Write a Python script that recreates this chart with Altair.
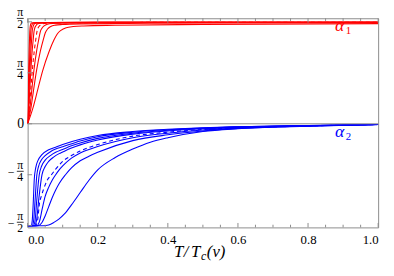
import math
import altair as alt
import pandas as pd

PI = math.pi

# ---------------- data ----------------
# alpha_1 (red) curves, fastest to slowest; index 4 is dashed
red_x = [
    [0, 0.0011, 0.0021, 0.0031, 0.0044, 0.0054, 0.0061, 0.0069, 0.008, 0.0096, 0.012, 0.05, 0.2, 1.0],
    [0, 0.0017, 0.0031, 0.0047, 0.0066, 0.0082, 0.0091, 0.0103, 0.012, 0.0144, 0.018, 0.06, 0.2, 1.0],
    [0, 0.0024, 0.0044, 0.0066, 0.0094, 0.0116, 0.0129, 0.0146, 0.017, 0.0204, 0.0255, 0.07, 0.2, 1.0],
    [0, 0.0034, 0.0062, 0.0094, 0.0132, 0.0163, 0.0182, 0.0206, 0.024, 0.0288, 0.036, 0.08, 0.25, 1.0],
    [0, 0.0049, 0.0091, 0.0137, 0.0193, 0.0238, 0.0266, 0.0301, 0.035, 0.042, 0.0525, 0.1, 0.3, 1.0],
    [0, 0.0066, 0.0122, 0.0183, 0.0259, 0.032, 0.0357, 0.0404, 0.047, 0.0564, 0.0705, 0.12, 0.3, 1.0],
    [0, 0.0092, 0.0172, 0.0257, 0.0363, 0.0449, 0.0502, 0.0568, 0.066, 0.0792, 0.099, 0.15, 0.35, 1.0],
    [0, 0.015, 0.029, 0.043, 0.061, 0.075, 0.084, 0.095, 0.11, 0.13, 0.16, 0.25, 0.5, 1.0],
]
red_y = [
    [0, 0.24, 0.54, 0.84, 1.14, 1.32, 1.42, 1.48, 1.52, 1.545, 1.555, 1.562, 1.565, 1.566],
    [0, 0.24, 0.54, 0.84, 1.14, 1.32, 1.42, 1.48, 1.52, 1.545, 1.555, 1.562, 1.565, 1.566],
    [0, 0.24, 0.54, 0.84, 1.14, 1.32, 1.42, 1.48, 1.52, 1.545, 1.555, 1.56, 1.564, 1.566],
    [0, 0.24, 0.54, 0.84, 1.14, 1.32, 1.42, 1.48, 1.515, 1.54, 1.55, 1.558, 1.563, 1.565],
    [0, 0.24, 0.54, 0.84, 1.14, 1.32, 1.42, 1.48, 1.515, 1.54, 1.55, 1.556, 1.562, 1.565],
    [0, 0.24, 0.54, 0.84, 1.13, 1.31, 1.41, 1.47, 1.51, 1.535, 1.545, 1.553, 1.56, 1.563],
    [0, 0.235, 0.53, 0.83, 1.12, 1.30, 1.40, 1.46, 1.50, 1.52, 1.53, 1.54, 1.55, 1.557],
    [0, 0.24, 0.53, 0.82, 1.11, 1.29, 1.38, 1.44, 1.48, 1.498, 1.508, 1.518, 1.53, 1.543],
]
red_dashed = [False, False, False, False, True, False, False, False]

# alpha_2 (blue) curves, fastest to slowest; index 4 is dashed
blue_x = [
    [0, 0.010, 0.013, 0.016, 0.019, 0.023, 0.03, 0.04, 0.06, 0.08, 0.1, 0.15, 0.2, 0.3, 0.4, 0.5, 0.6, 0.75, 1.0],
    [0, 0.013, 0.017, 0.021, 0.026, 0.031, 0.04, 0.05, 0.065, 0.08, 0.1, 0.15, 0.2, 0.3, 0.4, 0.5, 0.6, 0.75, 1.0],
    [0, 0.016, 0.021, 0.026, 0.033, 0.04, 0.05, 0.065, 0.08, 0.1, 0.125, 0.15, 0.2, 0.3, 0.4, 0.5, 0.6, 0.75, 1.0],
    [0, 0.019, 0.025, 0.032, 0.041, 0.05, 0.06, 0.075, 0.09, 0.1, 0.125, 0.15, 0.2, 0.3, 0.4, 0.5, 0.6, 0.75, 1.0],
    [0, 0.022, 0.028, 0.034, 0.04, 0.046, 0.055, 0.068, 0.08, 0.1, 0.125, 0.15, 0.2, 0.3, 0.4, 0.5, 0.6, 0.75, 1.0],
    [0, 0.026, 0.034, 0.042, 0.05, 0.06, 0.07, 0.08, 0.09, 0.1, 0.125, 0.15, 0.2, 0.3, 0.4, 0.5, 0.6, 0.75, 1.0],
    [0, 0.03, 0.04, 0.05, 0.06, 0.07, 0.08, 0.09, 0.108, 0.125, 0.15, 0.175, 0.2, 0.3, 0.4, 0.5, 0.6, 0.75, 1.0],
    [0, 0.045, 0.06, 0.075, 0.09, 0.105, 0.125, 0.15, 0.175, 0.2, 0.25, 0.3, 0.35, 0.4, 0.5, 0.6, 0.7, 0.8, 0.9, 1.0],
]
blue_y = [
    [-1.571, -1.571, -1.50, -1.22, -0.85, -0.68, -0.56, -0.48, -0.40, -0.36, -0.32, -0.24, -0.18, -0.12, -0.085, -0.06, -0.045, -0.03, -0.01],
    [-1.571, -1.571, -1.50, -1.20, -0.80, -0.66, -0.55, -0.49, -0.43, -0.39, -0.355, -0.265, -0.20, -0.13, -0.092, -0.065, -0.048, -0.032, -0.01],
    [-1.571, -1.571, -1.50, -1.18, -0.79, -0.65, -0.56, -0.49, -0.44, -0.395, -0.34, -0.295, -0.225, -0.145, -0.10, -0.07, -0.051, -0.034, -0.01],
    [-1.571, -1.571, -1.50, -1.15, -0.785, -0.66, -0.58, -0.51, -0.46, -0.435, -0.375, -0.325, -0.25, -0.16, -0.11, -0.076, -0.055, -0.036, -0.011],
    [-1.571, -1.571, -1.50, -1.22, -1.10, -1.00, -0.88, -0.785, -0.70, -0.58, -0.49, -0.42, -0.32, -0.19, -0.13, -0.088, -0.062, -0.039, -0.012],
    [-1.571, -1.571, -1.50, -1.30, -1.12, -0.98, -0.87, -0.785, -0.71, -0.65, -0.53, -0.45, -0.35, -0.215, -0.145, -0.097, -0.067, -0.041, -0.012],
    [-1.571, -1.571, -1.53, -1.42, -1.28, -1.14, -1.02, -0.92, -0.785, -0.68, -0.57, -0.50, -0.44, -0.26, -0.17, -0.11, -0.073, -0.044, -0.012],
    [-1.571, -1.571, -1.56, -1.52, -1.465, -1.39, -1.25, -1.06, -0.87, -0.71, -0.52, -0.39, -0.285, -0.215, -0.12, -0.076, -0.048, -0.03, -0.018, -0.01],
]
blue_dashed = [False, False, False, False, True, False, False, False]

x_major = [0.0, 0.2, 0.4, 0.6, 0.8, 1.0]
x_minor = [0.05, 0.1, 0.15, 0.25, 0.3, 0.35, 0.45, 0.5, 0.55, 0.65, 0.7, 0.75, 0.85, 0.9, 0.95]
y_ticks = [-PI / 2, -PI / 4, 0.0, PI / 4, PI / 2]
y_frac_vals = [PI / 2, PI / 4, -PI / 4, -PI / 2]
y_frac_num = ["π", "π", "π", "π"]
y_frac_den = ["2", "4", "4", "2"]
y_frac_sign = ["", "", "−", "−"]

# ---------------- layout / style ----------------
W, H = 357, 213
FONT = "Liberation Serif, Times New Roman, serif"
FRAME = "#8c8c8c"
RED = "#ff0000"
BLUE = "#0000ff"

xs = alt.Scale(domain=[0, 1], nice=False, zero=False)
ys = alt.Scale(domain=[-1.597, 1.626], nice=False, zero=False)
XAX = alt.Axis(values=x_major, format=".1f", ticks=False, domain=False, grid=False,
               labelFont=FONT, labelFontSize=13, labelColor="black", labelPadding=6, title=None)
XE = alt.X("x:Q", scale=xs, axis=XAX)
YE = alt.Y("y:Q", scale=ys, axis=None)


def curves_df(xl, yl, dl, want_dash):
    rows = []
    for i, (cx, cy) in enumerate(zip(xl, yl)):
        if dl[i] != want_dash:
            continue
        for a, b in zip(cx, cy):
            rows.append({"x": a, "y": b, "curve": i})
    return pd.DataFrame(rows)


def line_layer(df, color, dash):
    kw = dict(color=color, strokeWidth=1.1, interpolate="monotone", clip=True)
    if dash:
        kw["strokeDash"] = [4, 3]
    return alt.Chart(df).mark_line(**kw).encode(x=XE, y=YE, detail="curve:N")


layers = []

# curves
layers.append(line_layer(curves_df(red_x, red_y, red_dashed, False), RED, False))
layers.append(line_layer(curves_df(red_x, red_y, red_dashed, True), RED, True))
layers.append(line_layer(curves_df(blue_x, blue_y, blue_dashed, False), BLUE, False))
layers.append(line_layer(curves_df(blue_x, blue_y, blue_dashed, True), BLUE, True))

# zero line
layers.append(alt.Chart(pd.DataFrame({"y": [0.0]})).mark_rule(color=FRAME, strokeWidth=1).encode(
    y=YE, x=alt.value(0), x2=alt.value(W)))

# ticks (inward)
for vals, ln in ((x_major, 4.5), (x_minor, 2.7)):
    d = pd.DataFrame({"x": vals})
    layers.append(alt.Chart(d).mark_rule(color=FRAME, strokeWidth=1).encode(
        x=XE, y=alt.value(H), y2=alt.value(H - ln)))
    layers.append(alt.Chart(d).mark_rule(color=FRAME, strokeWidth=1).encode(
        x=XE, y=alt.value(0), y2=alt.value(ln)))
layers.append(alt.Chart(pd.DataFrame({"y": y_ticks})).mark_rule(color=FRAME, strokeWidth=1).encode(
    y=YE, x=alt.value(0), x2=alt.value(4.5)))

# y tick labels as fractions
ylab = pd.DataFrame({"y": y_frac_vals, "num": y_frac_num, "den": y_frac_den, "sign": y_frac_sign})
layers.append(alt.Chart(ylab).mark_text(font=FONT, fontSize=12, align="center", baseline="alphabetic",
                                         dy=-5.5, color="black").encode(
    x=alt.value(-7.5), y=YE, text="num:N"))
layers.append(alt.Chart(ylab).mark_rule(color="black", strokeWidth=0.8, yOffset=-3.5).encode(
    x=alt.value(-11), x2=alt.value(-4), y=YE))
layers.append(alt.Chart(ylab).mark_text(font=FONT, fontSize=12, align="center", baseline="alphabetic",
                                         dy=6.5, color="black").encode(
    x=alt.value(-7.5), y=YE, text="den:N"))
layers.append(alt.Chart(ylab).mark_text(font=FONT, fontSize=12, align="center", baseline="middle",
                                         dy=-3, color="black").encode(
    x=alt.value(-17), y=YE, text="sign:N"))
layers.append(alt.Chart(pd.DataFrame({"y": [0.0], "t": ["0"]})).mark_text(
    font=FONT, fontSize=14, align="center", baseline="middle", color="black").encode(
    x=alt.value(-7), y=YE, text="t:N"))


def label(txt, size, italic, color, x, y):
    kw = dict(font=FONT, fontSize=size, color=color, align="left", baseline="alphabetic")
    if italic:
        kw["fontStyle"] = "italic"
    return alt.Chart(pd.DataFrame({"t": [txt]})).mark_text(**kw).encode(
        text="t:N", x=alt.value(x), y=alt.value(y))


# curve labels
layers.append(label("α", 18, True, RED, 313, 13))
layers.append(label("1", 11, False, RED, 324, 16))
layers.append(label("α", 18, True, BLUE, 313, 121))
layers.append(label("2", 11, False, BLUE, 324, 124))

# x axis title  T/T_c(v)
TY = 243
layers.append(label("T", 17, True, "black", 149, TY))
layers.append(label("/", 17, True, "black", 159, TY))
layers.append(label("T", 17, True, "black", 166.5, TY))
layers.append(label("c", 12, True, "black", 176.5, TY + 3))
layers.append(label("(v)", 17, True, "black", 182.5, TY))

chart = alt.layer(*layers).properties(
    width=W, height=H,
    padding={"left": 20, "top": 8, "right": 8, "bottom": 45},
    autosize=alt.AutoSizeParams(type="none"),
).configure_view(stroke=FRAME, strokeWidth=1)

chart.save("out.html", embed_options={"renderer": "svg", "actions": False})
